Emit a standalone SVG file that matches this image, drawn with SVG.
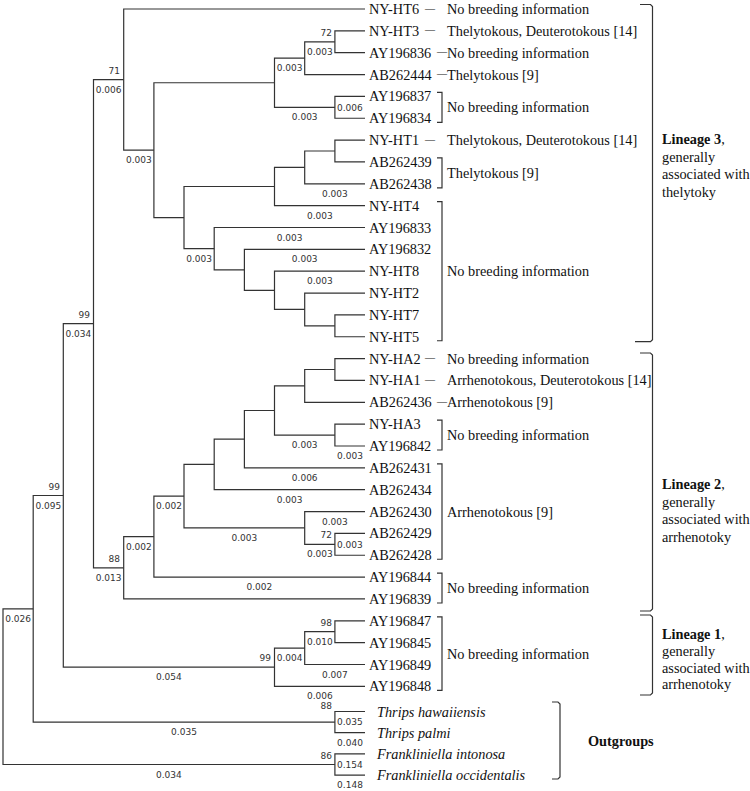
<svg xmlns="http://www.w3.org/2000/svg" width="750" height="791" viewBox="0 0 750 791">
<style>
.t{font-family:"Liberation Serif","Times New Roman",serif;font-size:14.3px;fill:#111}
.i{font-style:italic}
.b{font-weight:bold}
.n{font-family:"DejaVu Sans",Verdana,sans-serif;font-size:9px;fill:#333}
.m{text-anchor:middle}
.e{text-anchor:end}
.ln{fill:none;stroke:#333;stroke-width:1.2}
.br{fill:none;stroke:#333;stroke-width:1.2}
</style>
<rect width="750" height="791" fill="#fff"/>
<g id="connectors" class="ln">
<path d="M33.2 608.8H3V764.5H334.9"/>
<path d="M63.3 495.5H33.2V722.1H334.9"/>
<path d="M93.5 323.7H63.3V667.2H274.5"/>
<path d="M123.7 79.6H93.5V567.8H123.7"/>
<path d="M365 9H123.7V150.2H153.9"/>
<path d="M274.5 82.75H153.9V217.6H184"/>
<path d="M304.7 58.2H274.5V107.3H334.9"/>
<path d="M334.9 41.8H304.7V74.55H365"/>
<path d="M365 30.85H334.9V52.7H365"/>
<path d="M365 96.4H334.9V118.25H365"/>
<path d="M274.5 186.5H184V248.7H214.2"/>
<path d="M304.7 167.4H274.5V205.65H365"/>
<path d="M334.9 151H304.7V183.8H365"/>
<path d="M365 140.1H334.9V161.95H365"/>
<path d="M365 227.5H214.2V269.8H244.4"/>
<path d="M365 249.35H244.4V290.3H274.5"/>
<path d="M365 271.2H274.5V309.4H304.7"/>
<path d="M365 293.05H304.7V325.8H334.9"/>
<path d="M365 314.9H334.9V336.75H365"/>
<path d="M153.9 536.6H123.7V598.95H365"/>
<path d="M184 496.2H153.9V577.1H365"/>
<path d="M214.2 464.4H184V527.9H304.7"/>
<path d="M244.4 439.2H214.2V489.7H365"/>
<path d="M274.5 410.5H244.4V467.85H365"/>
<path d="M304.7 385.9H274.5V435.1H334.9"/>
<path d="M334.9 369.5H304.7V402.3H365"/>
<path d="M365 358.6H334.9V380.45H365"/>
<path d="M365 424.15H334.9V446H365"/>
<path d="M365 511.55H304.7V544.3H334.9"/>
<path d="M365 533.4H334.9V555.25H365"/>
<path d="M304.7 648.1H274.5V686.35H365"/>
<path d="M334.9 631.7H304.7V664.5H365"/>
<path d="M365 620.8H334.9V642.65H365"/>
<path d="M365 711.5H334.9V732.7H365"/>
<path d="M365 753.9H334.9V775.1H365"/>
</g>
<g id="branch-labels" class="n">
<g class="m">
<text x="108.6" y="92.6">0.006</text>
<text x="138.8" y="163.2">0.003</text>
<text x="289.6" y="71.2">0.003</text>
<text x="319.8" y="54.8">0.003</text>
<text x="304.7" y="120.3">0.003</text>
<text x="334.9" y="196.8">0.003</text>
<text x="319.8" y="218.7">0.003</text>
<text x="199.1" y="261.7">0.003</text>
<text x="289.6" y="240.5">0.003</text>
<text x="304.7" y="262.4">0.003</text>
<text x="319.8" y="284.2">0.003</text>
<text x="78.4" y="336.7">0.034</text>
<text x="48.3" y="508.5">0.095</text>
<text x="18.1" y="621.8">0.026</text>
<text x="108.6" y="580.8">0.013</text>
<text x="138.8" y="549.6">0.002</text>
<text x="169" y="509.2">0.002</text>
<text x="304.7" y="448.1">0.003</text>
<text x="350" y="459">0.003</text>
<text x="304.7" y="480.9">0.006</text>
<text x="289.6" y="502.7">0.003</text>
<text x="334.9" y="524.6">0.003</text>
<text x="244.4" y="540.9">0.003</text>
<text x="319.8" y="557.3">0.003</text>
<text x="259.4" y="590.1">0.002</text>
<text x="168.9" y="680.2">0.054</text>
<text x="319.8" y="644.7">0.010</text>
<text x="289.6" y="661.1">0.004</text>
<text x="334.9" y="677.5">0.007</text>
<text x="319.8" y="699.4">0.006</text>
<text x="350" y="745.7">0.040</text>
<text x="350" y="788.1">0.148</text>
<text x="184" y="735.1">0.035</text>
<text x="168.9" y="777.5">0.034</text>
</g>
<text x="337" y="110.6">0.006</text>
<text x="337" y="547.6">0.003</text>
<text x="337" y="725.4">0.035</text>
<text x="337" y="767.8">0.154</text>
<g class="e">
<text x="120" y="73.6">71</text>
<text x="332" y="35.8">72</text>
<text x="90" y="317.7">99</text>
<text x="60" y="489.5">99</text>
<text x="120" y="561.8">88</text>
<text x="332" y="538.3">72</text>
<text x="332" y="625.7">98</text>
<text x="271" y="661.2">99</text>
<text x="332" y="708.5">88</text>
<text x="332" y="759">86</text>
</g>
</g>
<g id="leaves" class="t">
<g id="NY-HT6"><text x="369" y="14">NY-HT6</text><text x="425" y="12.5" textLength="10" lengthAdjust="spacingAndGlyphs">–</text><text x="447" y="14">No breeding information</text></g>
<g id="NY-HT3"><text x="369" y="35.85">NY-HT3</text><text x="425" y="34.35" textLength="10" lengthAdjust="spacingAndGlyphs">–</text><text x="447" y="35.85">Thelytokous, Deuterotokous [14]</text></g>
<g id="AY196836"><text x="369" y="57.7">AY196836</text><text x="437" y="56.2" textLength="10" lengthAdjust="spacingAndGlyphs">–</text><text x="447" y="57.7">No breeding information</text></g>
<g id="AB262444"><text x="369" y="79.55">AB262444</text><text x="437" y="78.05" textLength="10" lengthAdjust="spacingAndGlyphs">–</text><text x="447" y="79.55">Thelytokous [9]</text></g>
<g id="AY196837"><text x="369" y="101.4">AY196837</text></g>
<g id="AY196834"><text x="369" y="123.25">AY196834</text></g>
<g id="NY-HT1"><text x="369" y="145.1">NY-HT1</text><text x="425" y="143.6" textLength="10" lengthAdjust="spacingAndGlyphs">–</text><text x="447" y="145.1">Thelytokous, Deuterotokous [14]</text></g>
<g id="AB262439"><text x="369" y="166.95">AB262439</text></g>
<g id="AB262438"><text x="369" y="188.8">AB262438</text></g>
<g id="NY-HT4"><text x="369" y="210.65">NY-HT4</text></g>
<g id="AY196833"><text x="369" y="232.5">AY196833</text></g>
<g id="AY196832"><text x="369" y="254.35">AY196832</text></g>
<g id="NY-HT8"><text x="369" y="276.2">NY-HT8</text></g>
<g id="NY-HT2"><text x="369" y="298.05">NY-HT2</text></g>
<g id="NY-HT7"><text x="369" y="319.9">NY-HT7</text></g>
<g id="NY-HT5"><text x="369" y="341.75">NY-HT5</text></g>
<g id="NY-HA2"><text x="369" y="363.6">NY-HA2</text><text x="425" y="362.1" textLength="10" lengthAdjust="spacingAndGlyphs">–</text><text x="447" y="363.6">No breeding information</text></g>
<g id="NY-HA1"><text x="369" y="385.45">NY-HA1</text><text x="425" y="383.95" textLength="10" lengthAdjust="spacingAndGlyphs">–</text><text x="447" y="385.45">Arrhenotokous, Deuterotokous [14]</text></g>
<g id="AB262436"><text x="369" y="407.3">AB262436</text><text x="437" y="405.8" textLength="10" lengthAdjust="spacingAndGlyphs">–</text><text x="447" y="407.3">Arrhenotokous [9]</text></g>
<g id="NY-HA3"><text x="369" y="429.15">NY-HA3</text></g>
<g id="AY196842"><text x="369" y="451">AY196842</text></g>
<g id="AB262431"><text x="369" y="472.85">AB262431</text></g>
<g id="AB262434"><text x="369" y="494.7">AB262434</text></g>
<g id="AB262430"><text x="369" y="516.55">AB262430</text></g>
<g id="AB262429"><text x="369" y="538.4">AB262429</text></g>
<g id="AB262428"><text x="369" y="560.25">AB262428</text></g>
<g id="AY196844"><text x="369" y="582.1">AY196844</text></g>
<g id="AY196839"><text x="369" y="603.95">AY196839</text></g>
<g id="AY196847"><text x="369" y="625.8">AY196847</text></g>
<g id="AY196845"><text x="369" y="647.65">AY196845</text></g>
<g id="AY196849"><text x="369" y="669.5">AY196849</text></g>
<g id="AY196848"><text x="369" y="691.35">AY196848</text></g>
<g id="T-hawaiiensis"><text class="i" x="377" y="716.5">Thrips hawaiiensis</text></g>
<g id="T-palmi"><text class="i" x="377" y="737.7">Thrips palmi</text></g>
<g id="F-intonosa"><text class="i" x="377" y="758.9">Frankliniella intonosa</text></g>
<g id="F-occidentalis"><text class="i" x="377" y="780.1">Frankliniella occidentalis</text></g>
</g>
<g id="groups">
<g class="br">
<path d="M437 92.4H442V122.3H437"/>
<path d="M437 157.95H442V187.8H437"/>
<path d="M437 201.65H442V340.75H437"/>
<path d="M437 420.15H442V450H437"/>
<path d="M437 463.85H442V559.25H437"/>
<path d="M437 573.1H442V603H437"/>
<path d="M437 616.8H442V690.35H437"/>
<path d="M640 4.5H650.5L652.5 6.5V339.7L650.5 341.7H635"/>
<path d="M640 353H650.5L652.5 355V609L650.5 611H640"/>
<path d="M640 615H650.5L652.5 617V693L650.5 695H640"/>
<path d="M552 702H558L560 704V777L558 779H552"/>
</g>
<g class="t">
<text x="447" y="112.3">No breeding information</text>
<text x="447" y="177.9">Thelytokous [9]</text>
<text x="447" y="276.2">No breeding information</text>
<text x="447" y="440.1">No breeding information</text>
<text x="447" y="516.55">Arrhenotokous [9]</text>
<text x="447" y="593">No breeding information</text>
<text x="447" y="658.6">No breeding information</text>
</g>
<g id="lineage3" class="t">
<text x="662" y="144"><tspan class="b">Lineage 3</tspan>,</text>
<text x="662" y="161.5">generally</text>
<text x="662" y="179">associated with</text>
<text x="662" y="196.5">thelytoky</text>
</g>
<g id="lineage2" class="t">
<text x="662" y="489"><tspan class="b">Lineage 2</tspan>,</text>
<text x="662" y="506.5">generally</text>
<text x="662" y="524">associated with</text>
<text x="662" y="541.5">arrhenotoky</text>
</g>
<g id="lineage1" class="t">
<text x="662" y="639"><tspan class="b">Lineage 1</tspan>,</text>
<text x="662" y="656">generally</text>
<text x="662" y="672.5">associated with</text>
<text x="662" y="689">arrhenotoky</text>
</g>
<g id="outgroups" class="t"><text class="b" x="588" y="745.5">Outgroups</text></g>
</g>
</svg>
